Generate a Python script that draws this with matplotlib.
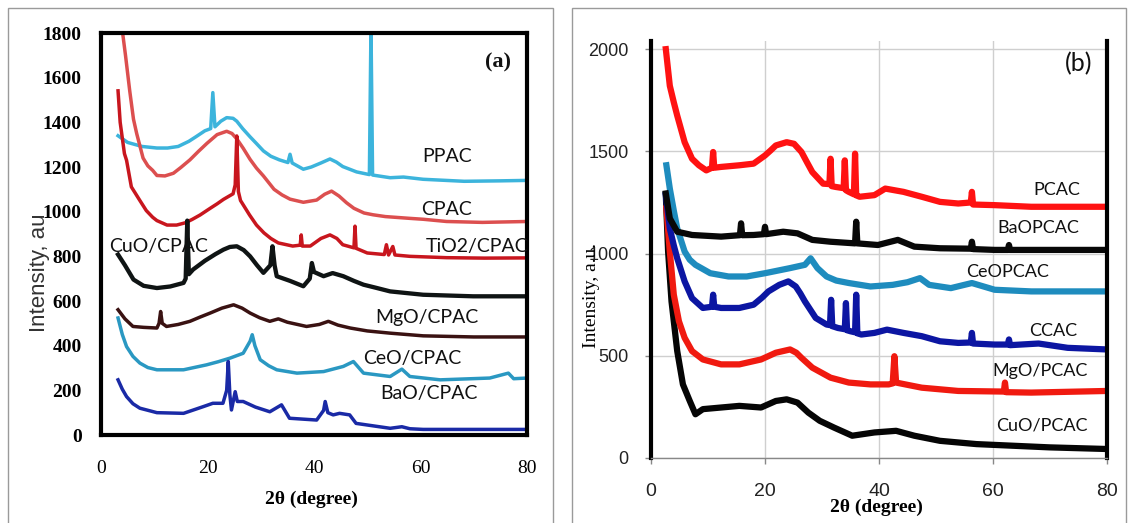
import matplotlib
matplotlib.use("Agg")
import matplotlib.pyplot as plt
from matplotlib.patches import Rectangle

# ---------------- Panel (a) data ----------------
ppac_x = [3.2, 5.0, 7.7, 10.5, 12.5, 14.5, 16.5, 17.8, 19.5, 20.6, 21.0, 21.4, 22.5, 23.6, 24.8, 25.5, 26.6, 28.0,
          29.2, 30.5, 31.9, 33.5, 35.1, 35.5, 35.9, 38.0, 39.5, 41.3, 43.0, 44.2, 45.4, 48.0, 50.4, 50.7, 51.0,
          54.3, 56.8, 60.5, 68.2, 75.0, 80.0]
ppac_y = [1340, 1310, 1292, 1285, 1285, 1292, 1315, 1335, 1362, 1372, 1533, 1380, 1405, 1421, 1418, 1405, 1372, 1335,
          1305, 1272, 1248, 1232, 1220, 1257, 1218, 1190, 1200, 1218, 1236, 1222, 1202, 1178, 1166, 1830, 1164,
          1152, 1155, 1145, 1136, 1138, 1140]

cpac_x = [3.9, 4.6, 5.4, 6.1, 6.7, 7.9, 8.8, 9.7, 10.5, 12.0, 13.6, 15.0, 16.7, 18.3, 19.9, 21.8, 23.6, 24.6,
          25.5, 26.7, 28.0, 29.2, 30.5, 32.5, 34.0, 35.5, 38.0, 40.5, 42.0, 43.3, 44.7, 46.1, 47.5, 49.4, 51.1,
          53.4, 58.0, 60.5, 64.9, 71.6, 80.0]
cpac_y = [1830, 1700, 1540, 1414, 1350, 1240, 1205, 1185, 1162, 1160, 1172, 1198, 1232, 1270, 1306, 1345, 1360, 1350,
          1326, 1284, 1234, 1195, 1160, 1100, 1075, 1056, 1042, 1052, 1078, 1092, 1070, 1040, 1015, 994, 986,
          978, 970, 966, 956, 952, 956]

tio2_x = [3.2, 3.6, 4.4, 4.8, 5.7, 7.3, 8.5, 9.7, 10.5, 12.4, 14.2, 15.8, 17.1, 18.6, 20.5, 21.8, 23.0, 24.8, 25.2,
          25.5, 25.8, 26.2, 27.9, 29.2, 30.6, 31.9, 33.3, 36.0, 37.4, 37.6, 37.8, 39.3, 41.3, 43.0, 44.3, 45.4,
          47.5, 47.7, 47.9, 50.0, 53.2, 53.6, 54.0, 54.8, 55.2, 58.0, 64.9, 72.0, 80.0]
tio2_y = [1541, 1400, 1260, 1230, 1111, 1050, 1005, 975, 960, 940, 940, 950, 965, 985, 1015, 1035, 1055, 1080, 1120,
          1339, 1090, 1050, 985, 940, 905, 880, 860, 846, 850, 896, 846, 846, 880, 896, 880, 852,
          838, 935, 836, 815, 808, 852, 806, 844, 806, 800, 794, 792, 793]

cuo_a_x = [3.2, 4.5, 6.1, 8.0, 10.5, 13.0, 15.5, 15.9, 16.2, 16.5, 17.3, 19.5, 21.5, 23.0, 24.2, 25.5, 26.8, 28.0,
           29.3, 30.5, 31.8, 32.2, 32.6, 33.0, 35.5, 38.0, 39.2, 39.6, 40.0, 41.8, 43.5, 45.5, 47.5, 49.3, 51.5,
           54.3, 60.5, 69.9, 80.0]
cuo_a_y = [808, 760, 696, 668, 658, 665, 681, 700, 960, 720, 741, 780, 810, 830, 842, 845, 828, 800,
           760, 726, 760, 845, 760, 711, 690, 666, 700, 770, 730, 711, 725, 711, 690, 673, 660,
           643, 628, 621, 621]

mgo_a_x = [3.2, 4.5, 6.0, 8.0, 10.5, 10.9, 11.2, 11.5, 12.3, 14.5, 16.7, 18.6, 20.5, 22.7, 24.9, 26.5, 28.0, 29.8,
           31.7, 33.3, 35.0, 38.6, 41.0, 42.7, 44.5, 46.8, 50.0, 54.3, 60.5, 70.0, 80.0]
mgo_a_y = [561, 520, 486, 482, 479, 500, 553, 500, 486, 495, 509, 528, 546, 568, 583, 568, 546, 525,
           509, 520, 505, 486, 495, 509, 492, 479, 466, 456, 444, 439, 439]

ceo_a_x = [3.2, 4.0, 4.8, 6.0, 7.3, 8.8, 10.5, 15.5, 19.8, 22.0, 24.2, 26.7, 28.0, 28.4, 28.9, 29.9, 31.5, 33.0,
           36.8, 41.8, 45.5, 47.4, 49.3, 54.3, 56.5, 58.0, 63.7, 73.0, 76.5, 77.5, 80.0]
ceo_a_y = [524, 450, 396, 352, 322, 302, 292, 292, 314, 328, 344, 366, 420, 449, 400, 337, 310, 292,
           277, 284, 307, 329, 277, 262, 295, 262, 247, 255, 277, 252, 255]

bao_a_x = [3.2, 4.0, 4.8, 6.0, 7.3, 10.5, 15.5, 19.2, 21.0, 22.9, 23.6, 23.9, 24.2, 24.5, 25.2, 25.6, 26.7, 29.0,
           31.7, 33.9, 35.4, 40.5, 41.8, 42.1, 42.6, 43.6, 44.8, 46.7, 47.9, 54.3, 56.5, 58.0, 60.5, 70.0, 80.0]
bao_a_y = [247, 205, 172, 140, 120, 100, 97, 127, 142, 142, 200, 329, 180, 112, 194, 150, 150, 125,
           104, 135, 75, 67, 110, 150, 100, 90, 97, 90, 52, 30, 37, 28, 25, 25, 25]

# ---------------- Panel (b) data ----------------
pcac_x = [2.6, 3.3, 4.0, 4.6, 5.9, 7.2, 8.4, 9.7, 10.7, 10.9, 11.1, 12.3, 15.5, 18.0, 20.0, 21.0, 21.9, 23.8, 25.1,
          26.4, 27.4, 28.3, 30.2, 31.3, 31.5, 31.7, 32.4, 33.8, 34.0, 34.2, 34.7, 35.6, 35.8, 36.0, 36.6, 39.2,
          41.1, 44.3, 47.5, 50.7, 53.9, 56.1, 56.3, 56.5, 60.3, 66.7, 73.1, 80.0]
pcac_y = [2000, 1821, 1740, 1675, 1545, 1464, 1432, 1407, 1420, 1497, 1420, 1424, 1432, 1440, 1480, 1505, 1529, 1545,
          1537, 1497, 1445, 1399, 1342, 1340, 1464, 1330, 1326, 1320, 1456, 1310, 1302, 1290, 1489, 1285, 1278,
          1286, 1318, 1302, 1278, 1253, 1245, 1250, 1302, 1240, 1237, 1229, 1229, 1229]

baop_x = [2.6, 3.3, 4.6, 7.2, 12.3, 15.6, 15.8, 16.0, 18.0, 19.8, 20.0, 20.2, 23.2, 25.7, 28.3, 31.5, 35.8, 36.0,
          36.2, 39.8, 43.3, 46.2, 50.7, 56.1, 56.3, 56.5, 60.3, 62.6, 62.8, 63.0, 66.7, 80.0]
baop_y = [1294, 1172, 1107, 1091, 1083, 1090, 1148, 1090, 1091, 1095, 1131, 1095, 1107, 1099, 1067, 1058, 1050, 1156,
          1050, 1042, 1067, 1034, 1026, 1024, 1058, 1022, 1018, 1018, 1042, 1018, 1018, 1018]

ceop_x = [2.7, 3.3, 4.0, 4.6, 5.9, 6.8, 7.8, 10.4, 13.6, 16.8, 20.0, 24.4, 27.0, 28.0, 29.2, 30.8, 32.5, 34.7, 38.5,
          42.4, 45.0, 47.2, 48.8, 52.6, 56.3, 60.3, 66.7, 80.0]
ceop_y = [1432, 1318, 1210, 1123, 1010, 970, 945, 904, 888, 888, 904, 929, 945, 977, 929, 888, 868, 856, 839,
          847, 860, 880, 847, 831, 856, 823, 815, 815]

ccac_x = [2.6, 3.3, 4.0, 4.6, 5.9, 7.2, 9.1, 10.7, 10.9, 11.1, 12.3, 15.5, 18.0, 19.5, 20.6, 22.5, 24.1, 25.4, 26.2,
          27.0, 28.9, 30.8, 31.4, 31.6, 31.8, 32.8, 34.0, 34.2, 34.4, 35.0, 35.8, 36.0, 36.2, 36.9, 39.2, 41.4,
          44.3, 47.5, 50.7, 53.9, 56.1, 56.3, 56.5, 60.3, 62.6, 62.8, 63.0, 68.0, 73.1, 80.0]
ccac_y = [1286, 1123, 1040, 977, 864, 782, 734, 740, 799, 740, 734, 734, 750, 785, 815, 847, 864, 839, 805,
          766, 685, 653, 650, 774, 645, 636, 630, 758, 625, 620, 615, 799, 610, 604, 612, 628,
          612, 596, 571, 563, 565, 612, 560, 555, 555, 580, 552, 560, 539, 531]

mgop_x = [2.7, 3.3, 4.0, 4.9, 5.9, 7.2, 9.1, 12.3, 15.5, 19.3, 21.9, 24.4, 25.5, 26.4, 28.3, 31.5, 34.7, 38.5, 41.7,
          42.4, 42.7, 43.0, 47.5, 53.9, 61.9, 62.1, 62.3, 66.7, 80.0]
mgop_y = [1221, 1010, 799, 669, 588, 523, 482, 458, 458, 482, 515, 531, 515, 490, 442, 393, 369, 360, 360,
          365, 498, 369, 344, 328, 325, 369, 322, 320, 328]

cuop_x = [2.6, 3.0, 3.6, 4.6, 5.6, 6.8, 7.8, 9.1, 12.3, 15.5, 19.3, 21.9, 23.8, 25.7, 27.6, 29.6, 32.1, 35.3,
          39.2, 43.0, 46.2, 50.7, 57.1, 63.5, 69.9, 80.0]
cuop_y = [1286, 1010, 766, 523, 360, 279, 214, 239, 247, 255, 247, 279, 287, 271, 222, 182, 149, 109,
          125, 133, 109, 84, 68, 60, 52, 44]

W, H = 1128, 523
fig = plt.figure(figsize=(W / 100, H / 100), dpi=100)
fig.patch.set_facecolor("white")

# outer chart-area frames
fig.patches.append(Rectangle((8 / W, -0.01), (553 - 8) / W, (523 - 8) / H + 0.01, transform=fig.transFigure,
                             fill=False, edgecolor="#9a9a9a", linewidth=1.0))
fig.patches.append(Rectangle((572 / W, -0.01), (1126 - 572) / W, (523 - 8) / H + 0.01, transform=fig.transFigure,
                             fill=False, edgecolor="#9a9a9a", linewidth=1.0))

lab_font = ["Lato", "DejaVu Sans"]

# ---------------- Panel (a) ----------------
axa = fig.add_axes([101 / W, (523 - 435) / H, 426 / W, 402 / H])
axa.set_xlim(0, 80)
axa.set_ylim(0, 1800)
lw_a = 2.5
axa.plot(ppac_x, ppac_y, color="#3cb4dc", lw=lw_a)
axa.plot(cpac_x, cpac_y, color="#dc4f4f", lw=lw_a)
axa.plot(tio2_x, tio2_y, color="#c8161e", lw=lw_a)
axa.plot(cuo_a_x, cuo_a_y, color="#0f1414", lw=lw_a + 0.6)
axa.plot(mgo_a_x, mgo_a_y, color="#3a1212", lw=lw_a)
axa.plot(ceo_a_x, ceo_a_y, color="#2a98c2", lw=lw_a)
axa.plot(bao_a_x, bao_a_y, color="#1a2aa6", lw=lw_a)
for s in axa.spines.values():
    s.set_linewidth(3.0)
    s.set_color("black")
axa.set_xticks([0, 20, 40, 60, 80])
axa.set_yticks(range(0, 1801, 200))
axa.tick_params(length=0, pad=0)
axa.tick_params(axis="y", pad=14)
axa.tick_params(axis="x", pad=18)
for t in axa.get_yticklabels():
    t.set_fontfamily("Liberation Serif")
    t.set_fontweight("bold")
    t.set_fontsize(14)
for t in axa.get_xticklabels():
    t.set_fontfamily("Liberation Serif")
    t.set_fontsize(14)

labels_a = [("PPAC", 64.9, 1249), ("CPAC", 64.9, 1010), ("TiO2/CPAC", 70.6, 845), ("CuO/CPAC", 10.8, 845),
            ("MgO/CPAC", 61.2, 524), ("CeO/CPAC", 58.4, 344), ("BaO/CPAC", 61.5, 187)]
for txt, x, y in labels_a:
    axa.text(x, y, txt, ha="center", va="center", fontsize=14, family=lab_font, color="#111111")
axa.text(74.6, 1670, "(a)", ha="center", va="center", fontsize=16, family="Liberation Serif",
         fontweight="bold", color="#111111")
fig.text(311 / W, 1 - 499 / H, "2θ (degree)", ha="center", va="center", fontsize=14,
         family="Liberation Serif", fontweight="bold")
fig.text(40 / W, 1 - 273 / H, "Intensity, au", ha="center", va="center", rotation=90, fontsize=16,
         family=["Liberation Sans"], color="#333333")

# ---------------- Panel (b) ----------------
axb = fig.add_axes([651 / W, (523 - 458) / H, 456 / W, 417 / H])
axb.set_xlim(0, 80)
axb.set_ylim(0, 2040)
axb.set_xticks([0, 20, 40, 60, 80])
axb.set_yticks([0, 500, 1000, 1500, 2000])
axb.grid(True, color="#cfcfcf", lw=1.0)
axb.set_axisbelow(True)
lw_b = 4.5
axb.plot(cuop_x, cuop_y, color="#050505", lw=lw_b)
axb.plot(mgop_x, mgop_y, color="#f01a10", lw=lw_b)
axb.plot(ccac_x, ccac_y, color="#0c16a2", lw=lw_b)
axb.plot(ceop_x, ceop_y, color="#1e8cbe", lw=lw_b)
axb.plot(baop_x, baop_y, color="#080808", lw=lw_b)
axb.plot(pcac_x, pcac_y, color="#ff1212", lw=lw_b)
axb.spines["top"].set_visible(False)
axb.spines["left"].set_linewidth(3.0)
axb.spines["right"].set_linewidth(3.0)
axb.spines["bottom"].set_linewidth(1.0)
axb.spines["bottom"].set_color("#888888")
axb.tick_params(direction="out", length=4, color="#888888", width=1)
axb.tick_params(axis="y", pad=12)
axb.tick_params(axis="x", pad=14)
for t in axb.get_yticklabels():
    t.set_fontfamily("Liberation Sans")
    t.set_fontsize(13)
    t.set_color("#222222")
for t in axb.get_xticklabels():
    t.set_fontfamily("Liberation Sans")
    t.set_fontsize(14)
    t.set_color("#222222")

labels_b = [("PCAC", 71.2, 1310), ("BaOPCAC", 68.0, 1123), ("CeOPCAC", 62.5, 912), ("CCAC", 70.5, 620),
            ("MgO/PCAC", 68.3, 425), ("CuO/PCAC", 68.6, 157)]
for txt, x, y in labels_b:
    axb.text(x, y, txt, ha="center", va="center", fontsize=13, family=lab_font, color="#111111")
axb.text(75, 1927, "(b)", ha="center", va="center", fontsize=18, family=lab_font, color="#111111")
fig.text(876 / W, 1 - 507 / H, "2θ (degree)", ha="center", va="center", fontsize=14,
         family="Liberation Serif", fontweight="bold")
fig.text(591 / W, 1 - 295 / H, "Intensity, a.u.", ha="center", va="center", rotation=90, fontsize=14,
         family="Liberation Serif")

fig.savefig("out.png", dpi=100)
